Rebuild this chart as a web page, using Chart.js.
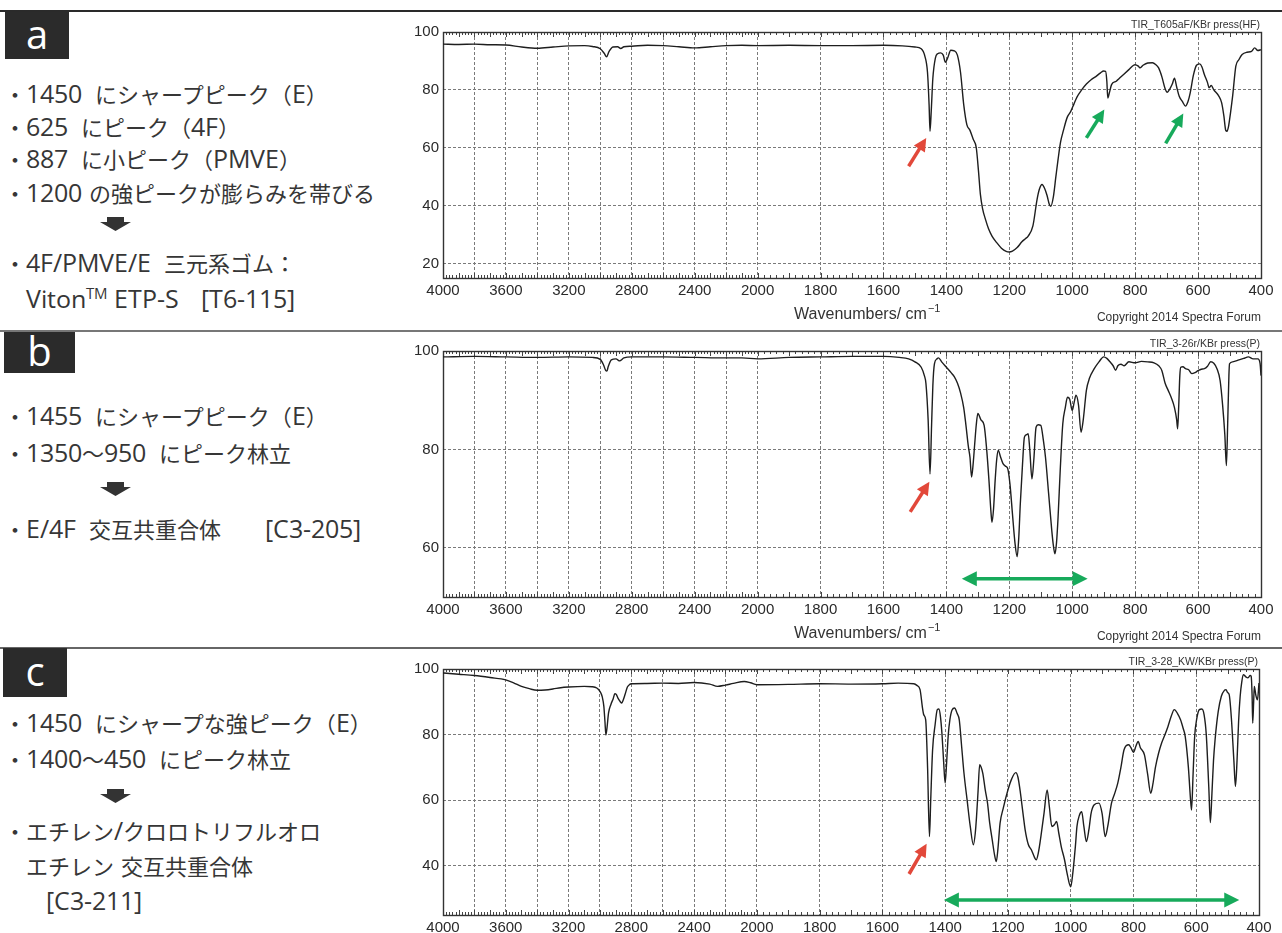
<!DOCTYPE html>
<html lang="ja">
<head>
<meta charset="utf-8">
<title>IR spectra a / b / c</title>
<script src="https://cdn.jsdelivr.net/npm/chart.js@4.4.1/dist/chart.umd.min.js"></script>
<style>
  @font-face {
    font-family: "NoteLatin";
    src: local("Open Sans Regular"), local("OpenSans-Regular"), local("Open Sans");
    unicode-range: U+0020-007E;
    size-adjust: 114%;
  }
  body { margin: 0; background: #fff; }
  #page { position: relative; width: 1282px; height: 933px; overflow: hidden;
          font-family: "NoteLatin", "Noto Sans CJK JP", "Noto Sans", sans-serif; color: #363636; }
  .rule { position: absolute; left: 0; width: 1282px; }
  .tag { position: absolute; background: #2b2b2b; color: #fff; font-family: "Open Sans", "Noto Sans", sans-serif;
         font-size: 40px; line-height: 1; display: flex; align-items: center; justify-content: center; }
  .note { position: absolute; left: 4px; font-size: 22px; line-height: 30px; white-space: nowrap; }
  .note .n { margin-right: 6px; }
  .note sup { font-size: 13px; vertical-align: 9px; line-height: 0; }
  .down { position: absolute; left: 100px; }
  .plot { position: absolute; left: 395px; width: 887px; }
</style>
</head>
<body>
<div id="page">
  <div class="rule" style="top:10px;height:2px;background:#2a2a2a"></div>
  <div class="rule" style="top:330px;height:2px;background:#777"></div>
  <div class="rule" style="top:647px;height:2px;background:#666"></div>

  <div class="tag" style="left:5px;top:12px;width:64px;height:47px;padding-bottom:4px;box-sizing:border-box">a</div>
  <div class="tag" style="left:4px;top:332px;width:71px;height:41px;padding-bottom:4px;box-sizing:border-box">b</div>
  <div class="tag" style="left:3px;top:648px;width:64px;height:49px;padding-bottom:4px;box-sizing:border-box">c</div>

  <!-- panel a notes -->
  <div class="note" style="top:78px">・<span class="n">1450</span> にシャープピーク（E）</div>
  <div class="note" style="top:111px">・<span class="n">625</span> にピーク（4F）</div>
  <div class="note" style="top:143px">・<span class="n">887</span> に小ピーク（PMVE）</div>
  <div class="note" style="top:177px">・1200 の強ピークが膨らみを帯びる</div>
  <svg class="down" style="top:217px" width="31" height="14" viewBox="0 0 31 14"><path d="M7 0H24V5H31L15.5 14L0 5H7Z" fill="#333"/></svg>
  <div class="note" style="top:247px">・<span class="n">4F/PMVE/E</span> 三元系ゴム：</div>
  <div class="note" style="top:283px;left:26px">Viton<sup>TM</sup> ETP-S　[T6-115]</div>

  <!-- panel b notes -->
  <div class="note" style="top:400px">・<span class="n">1455</span> にシャープピーク（E）</div>
  <div class="note" style="top:437px">・<span class="n">1350～950</span> にピーク林立</div>
  <svg class="down" style="top:482px" width="31" height="14" viewBox="0 0 31 14"><path d="M7 0H24V5H31L15.5 14L0 5H7Z" fill="#333"/></svg>
  <div class="note" style="top:513px">・<span class="n">E/4F</span> 交互共重合体　　[C3-205]</div>

  <!-- panel c notes -->
  <div class="note" style="top:707px">・<span class="n">1450</span> にシャープな強ピーク（E）</div>
  <div class="note" style="top:743px">・<span class="n">1400～450</span> にピーク林立</div>
  <svg class="down" style="top:789px" width="31" height="14" viewBox="0 0 31 14"><path d="M7 0H24V5H31L15.5 14L0 5H7Z" fill="#333"/></svg>
  <div class="note" style="top:815px">・エチレン/クロロトリフルオロ</div>
  <div class="note" style="top:850px;left:26px">エチレン 交互共重合体</div>
  <div class="note" style="top:885px;left:46px">[C3-211]</div>

  <div class="plot" style="top:14px;height:320px"><canvas id="chartA"></canvas></div>
  <div class="plot" style="top:331px;height:315px"><canvas id="chartB"></canvas></div>
  <div class="plot" style="top:649px;height:284px"><canvas id="chartC"></canvas></div>
</div>

<script>
// ---- axis values ----
const xGridValues = [4000, 3800, 3600, 3400, 3200, 3000, 2800, 2600, 2400, 2200, 2000,
  1800, 1600, 1400, 1200, 1000, 800, 600, 400];
const xTickLabels = [4000, 3600, 3200, 2800, 2400, 2000, 1800, 1600, 1400, 1200, 1000, 800, 600, 400];
const yTicksA = [20, 40, 60, 80, 100];
const yTicksB = [60, 80, 100];
const yTicksC = [40, 60, 80, 100];

// ---- spectra: [wavenumber cm-1, %T] ----
const spectrumA = [
  [4000, 95.8], [3900, 95.7], [3800, 95.8], [3700, 95.6], [3600, 95.5], [3500, 94.8], [3400, 94.4],
  [3300, 94.8], [3200, 95.2], [3100, 95.3], [3050, 95.0], [3000, 94.2], [2975, 92.6], [2960, 91.4],
  [2945, 93.2], [2920, 94.8], [2890, 94.9], [2870, 94.3], [2850, 94.9], [2800, 95.1], [2700, 95.4],
  [2600, 95.3], [2500, 94.9], [2400, 94.5], [2300, 94.9], [2200, 95.3], [2100, 95.4], [2000, 95.3],
  [1900, 95.4], [1800, 95.3], [1700, 95.3], [1600, 95.4], [1540, 95.2], [1500, 94.8], [1480, 94.2],
  [1468, 91.5], [1460, 86], [1455, 75], [1452, 65.7], [1448, 73], [1443, 84], [1435, 91], [1428, 92.5],
  [1418, 92.8], [1410, 92], [1403, 89.5], [1396, 91], [1386, 93.7], [1375, 93.5], [1365, 92], [1355, 86],
  [1345, 75], [1335, 68], [1325, 66], [1315, 63], [1305, 60], [1298, 52], [1292, 44], [1285, 39],
  [1275, 35], [1266, 32], [1255, 29.5], [1240, 27.2], [1225, 25.3], [1210, 24.2], [1200, 24],
  [1190, 24.3], [1175, 25.5], [1160, 27.5], [1150, 28.5], [1140, 29.5], [1125, 33], [1112, 42],
  [1105, 45.5], [1096, 47.3], [1088, 46], [1080, 43.5], [1073, 40.5], [1068, 39.8], [1060, 43],
  [1052, 50], [1045, 56], [1037, 62], [1028, 66], [1016, 70.5], [1005, 72.5], [995, 75], [985, 77.5],
  [970, 80], [955, 82], [940, 83.5], [925, 84.6], [910, 85.9], [900, 86.5], [894, 86.4], [890, 83],
  [887, 77.2], [882, 79], [875, 81.8], [860, 83], [850, 84], [835, 85.5], [820, 87], [805, 88.5],
  [800, 88.7], [790, 88.2], [785, 87.6], [775, 88.5], [760, 89.3], [745, 89.4], [735, 88.8], [725, 87.5],
  [715, 84.5], [705, 80.5], [698, 79.2], [690, 80.3], [682, 82], [675, 84], [668, 81], [660, 77.8],
  [650, 76], [640, 74.4], [632, 76], [625, 79], [615, 85], [605, 88.5], [595, 89], [588, 88], [580, 85.3],
  [570, 82.5], [565, 80.7], [558, 81.5], [550, 80], [535, 78], [525, 75.5], [518, 71], [512, 66],
  [508, 65.7], [503, 67.5], [497, 72], [490, 78], [480, 88.2], [470, 90.5], [460, 92.2], [445, 93],
  [430, 93.3], [420, 94.5], [410, 93.6], [400, 93.9]
];

const spectrumB = [
  [4000, 98.8], [3800, 98.9], [3600, 98.8], [3400, 98.7], [3200, 98.8], [3050, 98.7], [3000, 98.3],
  [2980, 97.2], [2965, 96], [2958, 95.9], [2950, 96.8], [2930, 98.2], [2900, 98.4], [2880, 98.0],
  [2870, 98.1], [2850, 98.6], [2800, 98.8], [2600, 98.8], [2400, 98.7], [2200, 98.6], [2100, 98.6],
  [2000, 98.4], [1900, 98.7], [1800, 98.8], [1700, 98.9], [1600, 98.9], [1550, 98.7], [1520, 98.4],
  [1500, 97.8], [1480, 96.7], [1470, 95], [1465, 93.4], [1458, 86], [1452, 75], [1447, 85], [1443, 93],
  [1438, 97.4], [1430, 98.4], [1425, 98.6], [1415, 97.8], [1400, 96.7], [1385, 95.6], [1375, 94.8],
  [1365, 93.5], [1355, 91.5], [1345, 88.5], [1338, 85], [1330, 80.5], [1325, 78.4], [1320, 74.4],
  [1315, 77], [1310, 81.1], [1305, 85], [1300, 87.3], [1290, 86], [1280, 84.9], [1272, 80], [1265, 74],
  [1258, 67], [1255, 65.2], [1250, 68], [1245, 73.7], [1240, 78], [1235, 79.8], [1228, 78.5],
  [1220, 77.1], [1210, 76.5], [1205, 76.1], [1198, 73], [1190, 66.9], [1182, 61], [1175, 58.2],
  [1170, 62], [1165, 69], [1158, 77], [1152, 82.5], [1145, 83], [1140, 83.2], [1135, 80], [1128, 74],
  [1122, 78], [1115, 84.5], [1108, 85], [1100, 84.9], [1092, 82], [1085, 78.4], [1075, 71], [1065, 63.5],
  [1060, 60.5], [1055, 58.8], [1050, 61], [1045, 66.2], [1038, 76], [1030, 85.2], [1022, 88.5],
  [1015, 90.6], [1008, 90.2], [1000, 87.9], [994, 89.5], [988, 91], [980, 89], [972, 83.5], [965, 86],
  [955, 92], [945, 94.5], [930, 96.4], [915, 97.8], [900, 98.8], [890, 98.5], [880, 97.8], [870, 97],
  [862, 96.1], [855, 97], [845, 97.3], [835, 97], [820, 97.8], [800, 97.6], [780, 97.9], [760, 97.8],
  [740, 97.6], [725, 97], [715, 96], [705, 93.5], [695, 92], [685, 90.5], [675, 88.5], [668, 86],
  [665, 84.2], [662, 88], [658, 95], [655, 96.7], [648, 96.8], [640, 96.4], [630, 96.2], [620, 95.4],
  [610, 95.6], [600, 96], [590, 96.3], [580, 96.4], [570, 96.9], [560, 97.8], [550, 97.5], [540, 96.4],
  [530, 94], [522, 89], [515, 83], [510, 76.7], [506, 85], [502, 95], [500, 97.4], [490, 97.8],
  [470, 98.2], [455, 98.5], [440, 98.8], [425, 98.4], [410, 98.4], [403, 97.5], [400, 95]
];

const spectrumC = [
  [4000, 98.8], [3900, 98.4], [3800, 98], [3700, 97.4], [3600, 96.7], [3550, 95.8], [3500, 94.7],
  [3450, 94], [3400, 93.5], [3350, 93.6], [3300, 93.9], [3250, 94.3], [3200, 94.5], [3100, 94.7],
  [3050, 94.6], [3020, 94.2], [3000, 93.2], [2985, 91.5], [2975, 88.6], [2968, 84], [2962, 79.9],
  [2955, 82], [2945, 86.6], [2930, 89.2], [2915, 91], [2905, 92.5], [2895, 92.2], [2885, 91.1],
  [2870, 90], [2862, 89.6], [2852, 90.5], [2840, 92.2], [2825, 94.5], [2810, 95.3], [2800, 95.5],
  [2700, 95.6], [2600, 95.7], [2500, 95.6], [2400, 95.9], [2300, 95.4], [2250, 94.7], [2200, 95.1],
  [2150, 95.6], [2080, 96.2], [2040, 95.8], [2000, 95.2], [1900, 95.3], [1800, 95.5], [1700, 95.4],
  [1600, 95.5], [1550, 95.7], [1500, 95.5], [1490, 95], [1480, 93.7], [1472, 88], [1468, 86],
  [1462, 84.5], [1456, 70], [1450, 48.9], [1446, 60], [1440, 75.4], [1432, 83], [1425, 87.6],
  [1420, 87.8], [1415, 85.5], [1410, 80], [1405, 72], [1400, 65.2], [1395, 72], [1390, 80], [1385, 84.5],
  [1378, 87.5], [1370, 88.1], [1362, 86.5], [1355, 84.5], [1348, 77], [1340, 68.2], [1330, 60],
  [1320, 52], [1310, 46.4], [1304, 50], [1300, 55], [1295, 63], [1290, 70.8], [1285, 70], [1280, 68.2],
  [1272, 63], [1265, 59.1], [1258, 53], [1250, 47.9], [1242, 43], [1237, 41.3], [1232, 45], [1225, 53],
  [1215, 57.5], [1200, 63.1], [1188, 66.5], [1175, 68.4], [1168, 67], [1160, 62.1], [1152, 56],
  [1145, 50.9], [1135, 46.5], [1125, 44.8], [1115, 42.5], [1110, 41.8], [1103, 44], [1095, 48.9],
  [1085, 56], [1075, 63.1], [1068, 58], [1060, 52], [1052, 52.5], [1045, 53.5], [1038, 50], [1030, 45.8],
  [1020, 42], [1010, 37], [1000, 33.6], [993, 38], [985, 46], [980, 52], [972, 55.5], [965, 56.5],
  [958, 52], [950, 47.4], [942, 51], [935, 56], [925, 58.6], [910, 59.1], [900, 56], [890, 48.9],
  [882, 52], [870, 59.1], [860, 62], [850, 65.2], [840, 70], [830, 75.4], [815, 76.9], [808, 76],
  [800, 74.6], [792, 76.5], [785, 77.9], [778, 76], [765, 73.8], [755, 68], [745, 62.1], [738, 65],
  [730, 70], [720, 74.3], [710, 77.5], [700, 79.9], [690, 82.5], [680, 85.5], [670, 87.6], [660, 86.5],
  [650, 84.5], [642, 82], [635, 79.4], [625, 70], [618, 60], [615, 57], [610, 68], [605, 79.4], [598, 85],
  [590, 87.6], [582, 87.8], [575, 86.1], [568, 80], [560, 64], [555, 53.2], [550, 62], [545, 72],
  [540, 78.4], [530, 87], [520, 91.7], [510, 93.5], [505, 93.7], [500, 92.8], [495, 92.2], [488, 85],
  [480, 72], [475, 64.2], [470, 72], [465, 84], [460, 91.7], [455, 96], [450, 98.3], [442, 97.6],
  [435, 97.3], [428, 98], [425, 97.8], [422, 92], [420, 83.5], [417, 90], [415, 94.7], [410, 92],
  [405, 90.6], [400, 95.7]
];

// ---- annotation arrows, in [wavenumber, %T] ----
const redArrowA = [[1520, 53.6], [1464, 63.4]];
const greenArrowsA = [[[955, 63.4], [898, 73.2]], [[703, 61.5], [647, 71.8]]];
const redArrowB = [[1515, 67.3], [1454, 73.4]];
const spanB = [[1351, 53.7], [951, 53.7]];
const redArrowC = [[1515, 37.5], [1459, 46.7]];
const spanC = [[1404, 29.6], [463, 29.6]];

const RED = '#e2483a';
const GREEN = '#17aa5b';
const NUM_FONT = '"Liberation Sans", Arial, sans-serif';

// IR x axis: 4000-2000 at half the scale of 2000-400
class WavenumberScale extends Chart.LinearScale {
  static id = 'wavenumber';
  static defaults = Chart.LinearScale.defaults;
  toUnits(v) { return v >= 2000 ? 4000 - v : 2000 + 2 * (2000 - v); }
  getPixelForValue(value) { return this.left + this.toUnits(value) / 5200 * this.width; }
  getValueForPixel(pixel) {
    const u = (pixel - this.left) / this.width * 5200;
    return u <= 2000 ? 4000 - u : 2000 - (u - 2000) / 2;
  }
}
Chart.register(WavenumberScale);

function headAt(ctx, from, to, len, half) {
  const ang = Math.atan2(to.y - from.y, to.x - from.x);
  const c = Math.cos(ang), s = Math.sin(ang);
  ctx.beginPath();
  ctx.moveTo(to.x, to.y);
  ctx.lineTo(to.x - len * c + half * s, to.y - len * s - half * c);
  ctx.lineTo(to.x - len * c - half * s, to.y - len * s + half * c);
  ctx.closePath();
  ctx.fill();
}

function drawArrow(chart, pair, color, both) {
  const { ctx, scales: { x, y } } = chart;
  const p1 = { x: x.getPixelForValue(pair[0][0]), y: y.getPixelForValue(pair[0][1]) };
  const p2 = { x: x.getPixelForValue(pair[1][0]), y: y.getPixelForValue(pair[1][1]) };
  const len = both ? 15 : 13;
  const half = both ? 7.5 : 6.5;
  const d = Math.hypot(p2.x - p1.x, p2.y - p1.y);
  const ux = (p2.x - p1.x) / d, uy = (p2.y - p1.y) / d;
  ctx.save();
  ctx.strokeStyle = color;
  ctx.fillStyle = color;
  ctx.lineWidth = 3.5;
  ctx.beginPath();
  const s0 = both ? len * 0.7 : 0;
  ctx.moveTo(p1.x + ux * s0, p1.y + uy * s0);
  ctx.lineTo(p2.x - ux * len * 0.7, p2.y - uy * len * 0.7);
  ctx.stroke();
  headAt(ctx, p1, p2, len, half);
  if (both) headAt(ctx, p2, p1, len, half);
  ctx.restore();
}

const irDecor = {
  id: 'irDecor',
  beforeDatasetsDraw(chart) {
    const { ctx, chartArea: a, scales: { x } } = chart;
    ctx.save();
    ctx.strokeStyle = '#444';
    ctx.lineWidth = 1;
    ctx.beginPath();
    for (let w = 4000; w >= 400; w -= 20) {
      const px = Math.round(x.getPixelForValue(w)) + 0.5;
      const len = w % 100 === 0 ? 5 : 3;
      ctx.moveTo(px, a.top); ctx.lineTo(px, a.top + len);
      ctx.moveTo(px, a.bottom); ctx.lineTo(px, a.bottom - len);
    }
    ctx.stroke();
    ctx.strokeStyle = '#333';
    ctx.lineWidth = 1.4;
    ctx.strokeRect(Math.round(a.left) + 0.5, Math.round(a.top) + 0.5,
      Math.round(a.right - a.left), Math.round(a.bottom - a.top));
    ctx.restore();
  },
  afterDatasetsDraw(chart, args, opts) {
    const { ctx, chartArea: a } = chart;
    ctx.save();
    ctx.fillStyle = '#333';
    ctx.textBaseline = 'middle';
    ctx.textAlign = 'right';
    ctx.font = '10.5px ' + NUM_FONT;
    ctx.fillText(opts.spec, a.right - 1, a.top - 7);
    if (opts.footer) {
      ctx.font = '12px ' + NUM_FONT;
      ctx.fillText('Copyright 2014 Spectra Forum', a.right, a.bottom + 40);
      ctx.font = '16px ' + NUM_FONT;
      ctx.textAlign = 'left';
      const main = 'Wavenumbers/ cm';
      const w = ctx.measureText(main).width;
      const x0 = (a.left + a.right) / 2 + 13 - (w + 9) / 2;
      ctx.fillText(main, x0, a.bottom + 37);
      ctx.font = '11px ' + NUM_FONT;
      ctx.fillText('\u22121', x0 + w + 1, a.bottom + 31);
    }
    ctx.restore();
    (opts.red || []).forEach(p => drawArrow(chart, p, RED, false));
    (opts.green || []).forEach(p => drawArrow(chart, p, GREEN, false));
    (opts.spans || []).forEach(p => drawArrow(chart, p, GREEN, true));
  }
};

function makeChart(id, spectrum, cfg) {
  return new Chart(document.getElementById(id), {
    type: 'line',
    data: {
      datasets: [{
        data: spectrum.map(([w, t]) => ({ x: w, y: t })),
        borderColor: '#1e1e1e',
        borderWidth: 1.4,
        pointRadius: 0,
        cubicInterpolationMode: 'monotone',
        fill: false
      }]
    },
    options: {
      responsive: true,
      maintainAspectRatio: false,
      animation: false,
      layout: { padding: { top: cfg.padTop, right: cfg.padRight, left: 0, bottom: 0 } },
      scales: {
        x: {
          type: 'wavenumber',
          min: 400,
          max: 4000,
          afterBuildTicks: s => { s.ticks = xGridValues.map(v => ({ value: v })); },
          afterFit: s => { s.height = cfg.xHeight; },
          ticks: {
            autoSkip: false, maxRotation: 0, padding: 4, color: '#2a2a2a',
            font: { family: NUM_FONT, size: 15 },
            callback: v => (xTickLabels.includes(v) ? String(v) : '')
          },
          grid: { color: '#7a7a7a', lineWidth: 1, drawTicks: false },
          border: { display: false, dash: [3, 2] }
        },
        y: {
          min: cfg.yMin,
          max: 100,
          afterBuildTicks: s => { s.ticks = cfg.yTicks.map(v => ({ value: v })); },
          afterFit: s => { s.width = 48; },
          ticks: { padding: 4, color: '#2a2a2a', font: { family: NUM_FONT, size: 15 }, callback: v => String(v) },
          grid: { color: '#7a7a7a', lineWidth: 1, drawTicks: false },
          border: { display: false, dash: [3, 2] }
        }
      },
      plugins: {
        legend: { display: false },
        tooltip: { enabled: false },
        irDecor: cfg.decor
      }
    },
    plugins: [irDecor]
  });
}

makeChart('chartA', spectrumA, {
  yMin: 15, yTicks: yTicksA, padTop: 18, padRight: 21, xHeight: 56,
  decor: { spec: 'TIR_T605aF/KBr press(HF)', footer: true, red: [redArrowA], green: greenArrowsA }
});
makeChart('chartB', spectrumB, {
  yMin: 50, yTicks: yTicksB, padTop: 20, padRight: 21, xHeight: 49,
  decor: { spec: 'TIR_3-26r/KBr press(P)', footer: true, red: [redArrowB], spans: [spanB] }
});
makeChart('chartC', spectrumC, {
  yMin: 25, yTicks: yTicksC, padTop: 20, padRight: 23, xHeight: 18,
  decor: { spec: 'TIR_3-28_KW/KBr press(P)', footer: false, red: [redArrowC], spans: [spanC] }
});
</script>
</body>
</html>
